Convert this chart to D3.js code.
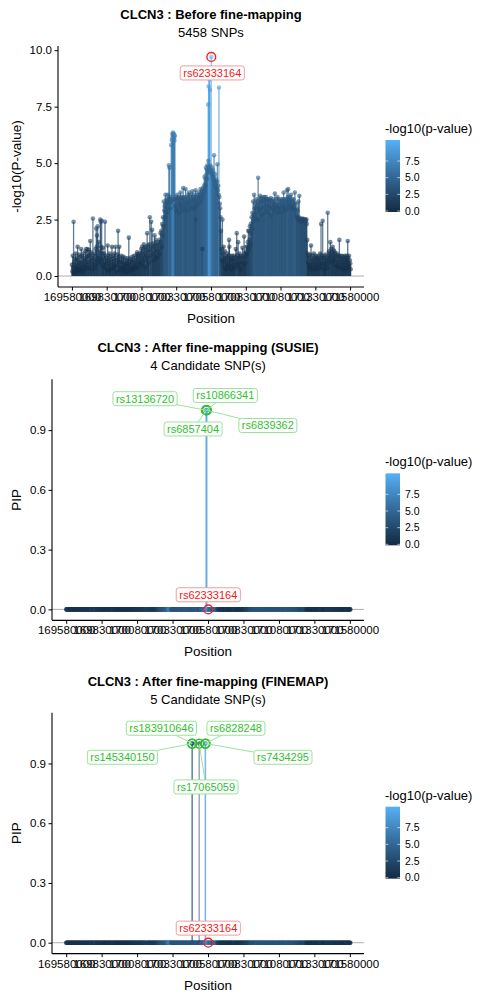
<!DOCTYPE html>
<html>
<head>
<meta charset="utf-8">
<script src="https://cdn.jsdelivr.net/npm/d3@7"></script>
<style>
  body { margin: 0; background: #fff; }
  svg { display: block; font-family: "Liberation Sans", Arial, sans-serif; }
</style>
</head>
<body>
<div id="chart"></div>
<script>
// Region shown on the x axis
var regionStart = 169580000;
var regionEnd = 171580000;
var xTicks = [169580000, 169830000, 170080000, 170330000, 170580000, 170830000, 171080000, 171330000, 171580000];

// SNPs: [kb from regionStart, -log10(p)]
var snps = [
  [0,0.5],[3,0.2],[6,0.9],[9,0.35],[12,2.4],[15,0.6],[18,0.15],[21,0.75],[24,0.4],[27,1.0],[30,0.3],[33,0.8],[36,0.5],[39,0.2],[41,1.3],[44,0.7],[47,0.4],[50,0.95],[53,0.25],[56,0.6],
  [59,0.85],[62,0.3],[65,0.55],[67,1.2],[70,0.4],[73,0.9],[76,0.2],[79,0.65],[82,1.0],[85,0.45],[88,0.8],[91,0.3],[94,0.7],[97,1.1],[100,0.5],[103,1.2],[106,0.85],[109,0.35],[113,1.2],[116,0.9],
  [119,0.6],[122,1.15],[125,0.4],[128,0.95],[132,1.55],[135,0.7],[138,1.05],[141,0.3],[144,0.8],[147,0.5],[151,2.55],[154,0.9],[157,0.6],[160,1.0],[163,0.35],[166,0.75],[170,1.2],[173,0.5],[175,2.1],[178,1.3],
  [180,1.8],[183,0.7],[185,2.2],[188,0.9],[192,1.5],[195,0.6],[198,1.1],[201,0.8],[204,2.5],[207,2.4],[210,1.3],[212,0.7],[214,2.45],[217,1.0],[220,0.5],[223,1.25],[226,0.8],[229,0.4],[232,1.0],[235,0.6],
  [238,2.4],[241,0.9],[244,0.5],[247,0.8],[250,0.3],[253,0.7],[257,1.35],[260,0.55],[263,0.9],[266,0.25],[269,0.7],[272,1.0],[275,0.4],[278,0.85],[281,0.6],[284,0.3],[288,1.3],[291,0.75],[294,0.5],[297,0.9],
  [300,0.35],[303,0.65],[306,1.0],[309,0.45],[313,1.3],[316,0.8],[319,0.5],[322,0.2],[325,0.7],[328,0.95],[332,2.0],[335,0.6],[338,0.85],[341,1.3],[344,0.4],[347,0.7],[350,0.25],[353,0.6],[356,0.9],[359,0.4],
  [362,0.75],[365,0.3],[368,0.55],[371,0.85],[374,0.2],[377,0.6],[380,0.4],[383,0.8],[386,0.5],[389,0.3],[392,0.65],[395,0.45],[398,0.7],[401,0.2],[404,0.55],[406,0.8],[409,1.7],[412,0.5],[415,0.3],[418,0.65],
  [421,0.4],[424,0.75],[427,0.25],[430,0.6],[433,0.85],[436,0.4],[439,0.7],[442,0.3],[445,0.55],[448,0.9],[451,0.45],[454,0.7],[457,0.35],[460,0.8],[463,0.5],[466,0.95],[469,1.05],[472,0.6],[475,0.85],[478,0.4],
  [481,0.9],[484,0.7],[487,1.0],[490,0.55],
  [493,1.0],[496,0.6],[499,1.2],[502,0.8],[505,1.3],[508,0.5],[511,1.1],[514,0.9],[517,1.4],[520,0.7],[523,1.25],[526,1.0],[529,0.4],[532,1.3],[535,0.9],[538,1.15],[541,1.9],[544,0.8],[547,1.35],[550,1.1],
  [553,0.6],[556,1.4],[560,2.6],[563,1.2],[566,0.9],[570,2.4],[573,1.3],[577,2.05],[580,1.0],[583,1.45],[586,0.7],[589,1.3],[591,1.1],[594,1.8],[597,0.9],[600,1.4],[603,1.6],[606,1.2],[609,0.8],[612,1.35],
  [615,1.1],[618,1.5],[621,0.9],[624,1.4],[627,1.2],[630,1.6],[633,1.0],[637,1.9],[640,1.5],[643,2.0],[646,1.3],[649,2.3],[652,1.8],[655,2.6],[658,2.2],[661,3.3],
  [664,2.9],[667,3.1],[670,2.6],[673,3.6],[676,3.2],[679,3.4],[682,2.8],[685,3.3],[688,3.0],[690,3.6],[693,3.4],[697,4.9],[700,3.2],[702,4.8],[705,3.5],[708,3.0],[711,3.4],[714,5.8],[717,3.3],[719,6.0],
  [721,6.1],[723,6.3],[725,6.25],[727,6.35],[729,6.2],[731,6.3],[733,6.1],[735,6.25],[737,6.0],[739,3.4],[741,6.2],[743,3.1],[746,3.5],[749,2.9],[752,3.4],[755,3.2],[758,3.6],[761,3.0],[764,3.45],[767,3.3],
  [770,2.8],[773,3.5],[776,3.2],[779,3.4],[781,3.7],[784,3.1],[787,3.5],[790,3.3],[793,2.9],[796,3.45],[800,3.9],[803,3.2],[806,3.5],[809,3.0],[812,3.4],[815,3.3],[817,3.85],[820,3.1],[823,3.5],[826,3.25],
  [829,2.9],[832,3.45],[835,3.3],[838,3.6],[841,3.7],[844,3.2],[847,3.5],[850,3.0],[853,3.4],[856,3.3],[859,3.6],[862,3.1],[865,3.75],[868,3.35],[871,3.5],[874,3.0],[877,3.45],[880,3.3],[883,3.6],[886,3.2],
  [887,3.0],[889,3.8],[890,2.5],[892,3.4],[895,3.1],[898,3.5],[901,3.3],[904,3.6],[907,3.2],[910,3.45],[913,3.7],[916,3.5],[919,3.3],[922,3.6],[925,3.85],[928,3.5],[931,3.7],[934,3.4],[937,3.8],[938,1.2],
  [940,3.6],[943,3.9],[946,3.7],[950,4.0],[952,3.8],[954,4.4],[957,4.1],[960,4.3],[962,4.0],[964,4.8],[967,4.5],[970,4.7],[972,4.3],[974,4.9],[977,4.6],[979,4.8],[980,7.6],[981,5.1],[983,8.4],[985,4.7],
  [986,8.8],[988,9.1],[990,8.7],[992,8.25],[995,4.9],[998,4.6],[1002,9.7],[1005,4.8],[1008,4.5],[1011,4.7],[1014,4.4],[1017,4.6],[1020,4.3],[1022,5.35],[1025,4.2],[1028,4.5],[1031,4.0],[1034,4.3],[1037,4.1],[1040,3.9],
  [1043,4.2],[1046,4.95],[1049,3.8],[1052,4.0],[1055,3.6],[1057,8.35],[1060,3.5],[1063,3.2],[1066,3.0],[1069,2.6],
  [1072,2.0],[1075,1.2],[1078,0.7],[1082,2.5],[1085,1.0],[1088,0.6],[1091,1.3],[1094,0.8],[1097,0.4],[1100,1.1],[1103,0.7],[1106,0.9],[1109,0.3],[1112,0.8],[1115,0.5],[1118,1.0],[1121,0.6],[1124,0.85],[1127,0.4],[1130,1.6],
  [1132,1.3],[1135,0.7],[1138,0.9],[1141,0.5],[1144,0.8],[1147,0.3],[1150,0.7],[1153,0.9],[1156,0.45],[1159,0.75],[1162,0.6],[1165,0.9],[1168,0.35],[1171,0.8],[1174,0.5],[1178,1.2],[1181,0.7],[1185,1.9],[1188,0.9],[1191,0.5],
  [1195,1.5],[1198,0.8],[1201,0.6],[1204,1.0],[1207,0.4],[1210,0.85],[1213,0.6],[1216,0.9],[1219,0.3],[1222,0.75],[1226,1.25],[1229,0.6],[1232,0.9],[1235,0.5],[1238,1.75],[1241,0.8],[1244,1.0],[1247,0.6],[1250,1.1],[1253,0.9],
  [1256,1.3],[1259,1.0],[1262,1.3],
  [1265,1.5],[1268,2.0],[1271,1.2],[1274,2.0],[1277,1.6],[1280,2.2],[1283,1.4],[1286,2.3],[1289,1.9],[1292,2.6],[1295,2.1],[1298,2.8],[1300,2.4],[1303,3.3],[1306,2.7],[1310,3.6],[1313,3.0],[1316,2.6],[1319,3.2],[1322,3.0],
  [1325,3.4],[1328,2.8],[1331,3.3],[1334,3.1],[1336,2.5],[1339,4.35],[1342,3.2],[1345,3.0],[1348,3.4],[1351,2.9],[1353,3.55],[1356,3.3],[1359,3.0],[1362,3.45],[1365,2.7],[1368,3.3],[1370,3.5],[1373,3.1],[1376,3.4],[1379,2.8],
  [1382,3.3],[1385,3.5],[1388,3.0],[1391,3.4],[1394,3.5],[1397,3.2],[1400,2.9],[1403,3.4],[1406,3.4],[1409,3.1],[1412,3.3],[1415,2.8],[1418,3.4],[1421,3.2],[1424,3.0],[1427,3.35],[1430,3.45],[1433,3.1],[1436,2.7],[1439,3.3],
  [1442,3.0],[1445,3.4],[1448,3.2],[1451,2.9],[1454,3.3],[1457,3.1],[1459,3.65],[1462,3.2],[1465,3.0],[1468,3.4],[1471,3.1],[1474,2.8],[1478,3.5],[1481,3.2],[1484,3.0],[1487,3.4],[1490,3.1],[1493,2.9],[1496,3.3],[1499,3.0],
  [1502,3.4],[1505,3.2],[1508,2.8],[1511,3.3],[1514,3.1],[1517,3.4],[1520,3.0],[1522,3.7],[1525,3.2],[1528,3.4],[1531,3.0],[1534,3.3],[1537,2.9],[1539,3.1],[1542,3.4],[1546,3.8],[1549,3.3],[1552,3.5],[1555,3.85],[1558,3.2],
  [1561,3.4],[1564,3.0],[1567,3.5],[1570,3.3],[1573,3.1],[1575,3.6],[1578,3.2],[1581,3.4],[1584,3.0],[1587,3.1],[1590,3.3],[1594,3.4],[1597,3.0],[1600,3.2],[1603,3.7],[1606,2.9],[1610,3.2],[1613,2.7],[1616,3.0],[1619,2.6],
  [1622,2.9],[1625,2.5],[1628,3.3],[1631,2.6],[1635,3.55],[1638,2.5],[1641,2.4],[1644,2.55],[1647,2.5],[1650,2.45],[1653,2.5],[1656,2.4],[1659,2.55],[1662,2.5],[1665,2.45],[1668,2.5],[1671,2.4],[1674,2.5],[1677,2.45],[1680,2.5],
  [1683,2.4],[1686,2.5],[1689,2.3],[1692,1.6],
  [1695,1.0],[1698,0.6],[1701,0.9],[1704,0.4],[1707,0.8],[1710,0.5],[1713,0.95],[1716,0.3],[1719,1.35],[1722,0.7],[1725,0.5],[1728,0.9],[1731,0.35],[1734,0.75],[1737,0.6],[1740,1.0],[1743,0.4],[1746,0.8],[1749,0.55],[1752,0.9],
  [1755,0.3],[1758,0.7],[1761,0.85],[1764,0.45],[1767,0.75],[1770,0.6],[1773,0.9],[1776,0.35],[1779,0.8],[1782,0.5],[1785,1.0],[1788,0.7],[1791,2.3],[1794,0.6],[1797,0.9],[1800,0.4],[1803,2.45],[1806,0.8],[1809,0.55],[1812,0.9],
  [1815,0.3],[1818,0.75],[1821,0.6],[1824,0.95],[1827,0.5],[1830,0.8],[1833,0.35],[1836,0.7],[1839,2.8],[1842,0.9],[1845,0.6],[1848,1.1],[1851,0.8],[1854,1.0],[1858,1.5],[1861,0.9],[1864,1.2],[1867,0.7],[1870,1.05],[1873,0.6],
  [1875,1.3],[1878,0.9],[1881,1.15],[1884,0.7],[1887,1.1],[1890,0.8],[1893,1.0],[1896,0.5],[1899,0.9],[1902,0.7],[1905,1.0],[1908,0.4],[1911,0.85],[1914,0.6],[1917,0.9],[1920,0.45],[1923,1.6],[1926,0.7],[1929,0.9],[1932,0.35],
  [1935,0.8],[1938,0.6],[1941,0.9],[1944,0.4],[1947,0.75],[1950,0.55],[1953,0.85],[1956,0.3],[1959,0.7],[1962,0.9],[1965,0.5],[1968,0.8],[1971,0.35],[1974,0.7],[1977,0.9],[1980,0.6],[1983,1.55],[1986,0.8],[1989,0.5],[1992,0.9],
  [1995,0.4],[1998,0.7],[2001,0.55],[2004,0.3]
];

// lead SNP (most significant)
var leadName = "rs62333164";
var leadKb = 1002;
var leadLogP = 9.7;
var leadPip = 0;

// SUSIE credible set
var susieNames = ["rs13136720", "rs10866341", "rs6857404", "rs6839362"];
var susieKb = [986, 988, 990, 992];
var susieLogP = [8.8, 9.1, 8.7, 8.25];
var susiePip = [1.0, 1.0, 1.0, 1.0];

// FINEMAP credible set
var finemapNames = ["rs145340150", "rs183910646", "rs17065059", "rs6828248", "rs7434295"];
var finemapKb = [887, 890, 938, 980, 983];
var finemapLogP = [3.0, 2.5, 1.2, 7.6, 8.4];
var finemapPip = [1.0, 1.0, 1.0, 1.0, 1.0];

var logpTicks = [0, 2.5, 5, 7.5, 10];
var pipTicks = [0, 0.3, 0.6, 0.9];
var legendTicks = [0, 2.5, 5, 7.5];

// ---------------- layout ----------------
var svgWidth = 500, svgHeight = 1000;
var panelHeight = 1000 / 3;
var plotTop = 46, plotBottom = 287, plotRight = 364;
var lowColor = "#132B43", highColor = "#56B1F7";
var green = "#2fbf2f", greenLight = "#9be39b", red = "#f02020", redLight = "#f79a9a";

var svg = d3.select("#chart").append("svg")
  .attr("width", svgWidth)
  .attr("height", svgHeight);

var maxLogP = d3.max(snps, d => d[1]);
var color = d3.scaleLinear()
  .domain([0, maxLogP])
  .range([lowColor, highColor])
  .interpolate(d3.interpolateLab);

function posOf(kb) { return regionStart + kb * 1000; }

function addLabel(g, px, py, dx, dy, text, txtColor, boxColor, segColor) {
  var cx = px + dx, cy = py + dy;
  if (segColor) {
    g.append("line")
      .attr("x1", px).attr("y1", py)
      .attr("x2", cx).attr("y2", cy)
      .attr("stroke", segColor)
      .attr("stroke-width", 1);
  }
  var lab = g.append("g");
  var rect = lab.append("rect");
  var t = lab.append("text")
    .attr("x", cx).attr("y", cy + 3.9)
    .attr("text-anchor", "middle")
    .attr("font-size", 11)
    .attr("fill", txtColor)
    .text(text);
  var w = t.node().getComputedTextLength() + 6;
  rect.attr("x", cx - w / 2).attr("y", cy - 7)
    .attr("width", w).attr("height", 14)
    .attr("rx", 2.5)
    .attr("fill", "white")
    .attr("stroke", boxColor)
    .attr("stroke-width", 1);
}

function drawPanel(idx, opts) {
  var top = idx * panelHeight;
  var g = svg.append("g").attr("transform", "translate(0," + top + ")");
  var left = opts.left;

  var span = regionEnd - regionStart;
  var xScale = d3.scaleLinear()
    .domain([regionStart - 0.05 * span, regionEnd + 0.05 * span])
    .range([left, plotRight]);
  var yMax = opts.yMax;
  var yScale = d3.scaleLinear()
    .domain([-0.05 * yMax, yMax * 1.05])
    .range([plotBottom, plotTop]);

  // titles
  var cx = (left + plotRight) / 2;
  g.append("text").attr("x", cx).attr("y", 19)
    .attr("text-anchor", "middle").attr("font-size", 13).attr("font-weight", "bold")
    .text(opts.title);
  g.append("text").attr("x", cx).attr("y", 37)
    .attr("text-anchor", "middle").attr("font-size", 13)
    .text(opts.subtitle);

  // reference line at zero
  g.append("line")
    .attr("x1", left).attr("x2", plotRight)
    .attr("y1", yScale(0)).attr("y2", yScale(0))
    .attr("stroke", "#a6a6a6").attr("stroke-width", 0.9);

  // axes
  var xAxis = g.append("g")
    .attr("transform", "translate(0," + plotBottom + ")")
    .call(d3.axisBottom(xScale).tickValues(xTicks).tickFormat(d3.format("d"))
      .tickSize(3.5).tickPadding(2.5).tickSizeOuter(0));
  var yAxis = g.append("g")
    .attr("transform", "translate(" + left + ",0)")
    .call(d3.axisLeft(yScale).tickValues(opts.yTicks).tickFormat(d3.format(".1f"))
      .tickSize(3.5).tickPadding(2.5).tickSizeOuter(0));
  [xAxis, yAxis].forEach(function(a) {
    a.attr("font-family", null).attr("font-size", null);
    a.selectAll("text").attr("font-size", 11.5).attr("fill", "#000");
    a.selectAll("line").attr("stroke", "#000");
    a.select(".domain").attr("stroke", "#000").attr("stroke-width", 1.1);
  });
  xAxis.select(".domain").attr("d", "M" + left + ",0H" + plotRight);
  yAxis.select(".domain").attr("d", "M0," + plotTop + "V" + plotBottom);

  g.append("text").attr("x", cx).attr("y", 323)
    .attr("text-anchor", "middle").attr("font-size", 13.5)
    .text("Position");
  g.append("text")
    .attr("transform", "translate(21," + (plotTop + plotBottom) / 2 + ") rotate(-90)")
    .attr("text-anchor", "middle").attr("font-size", 13.5)
    .text(opts.ylab);

  var marks = g.append("g");
  if (idx === 0) {
    marks.append("g").selectAll("line")
      .data(snps).enter().append("line")
      .attr("x1", d => xScale(posOf(d[0]))).attr("x2", d => xScale(posOf(d[0])))
      .attr("y1", yScale(0)).attr("y2", d => yScale(d[1]))
      .attr("stroke", d => color(d[1]))
      .attr("stroke-width", 1.3)
      .attr("stroke-opacity", 0.72);
    marks.append("g").selectAll("circle")
      .data(snps).enter().append("circle")
      .attr("cx", d => xScale(posOf(d[0])))
      .attr("cy", d => yScale(d[1]))
      .attr("r", 2.3)
      .attr("fill", d => color(d[1]))
      .attr("fill-opacity", 0.6);
    var lx = xScale(posOf(leadKb)), ly = yScale(leadLogP);
    marks.append("circle").attr("cx", lx).attr("cy", ly).attr("r", 4.4)
      .attr("fill", "none").attr("stroke", red).attr("stroke-width", 1.4);
    addLabel(g, lx, ly, 1, 16, leadName, red, redLight, null);
  } else {
    var names = opts.names, kbs = opts.kb, lps = opts.logp, pips = opts.pip;
    marks.append("g").selectAll("circle")
      .data(snps).enter().append("circle")
      .attr("cx", d => xScale(posOf(d[0])))
      .attr("cy", yScale(0))
      .attr("r", 2.3)
      .attr("fill", d => color(d[1]))
      .attr("fill-opacity", 0.6);
    names.forEach(function(n, i) {
      var x = xScale(posOf(kbs[i]));
      marks.append("line")
        .attr("x1", x).attr("x2", x)
        .attr("y1", yScale(0)).attr("y2", yScale(pips[i]))
        .attr("stroke", color(lps[i]))
        .attr("stroke-width", 1.3)
        .attr("stroke-opacity", 0.5);
    });
    names.forEach(function(n, i) {
      marks.append("circle")
        .attr("cx", xScale(posOf(kbs[i]))).attr("cy", yScale(pips[i]))
        .attr("r", 2.2).attr("fill", color(lps[i])).attr("fill-opacity", 0.7);
    });
    var lx = xScale(posOf(leadKb)), ly = yScale(leadPip);
    marks.append("circle").attr("cx", lx).attr("cy", ly).attr("r", 4.4)
      .attr("fill", "none").attr("stroke", red).attr("stroke-width", 1.4);
    names.forEach(function(n, i) {
      marks.append("circle")
        .attr("cx", xScale(posOf(kbs[i]))).attr("cy", yScale(pips[i])).attr("r", 4.4)
        .attr("fill", "none").attr("stroke", green).attr("stroke-width", 1.5);
    });
    var labs = g.append("g");
    names.forEach(function(n, i) {
      addLabel(labs, xScale(posOf(kbs[i])), yScale(pips[i]), opts.labelDx[i], opts.labelDy[i],
        n, green, greenLight, greenLight);
    });
    addLabel(labs, lx, ly, 0, -14.6, leadName, red, redLight, null);
  }

  // colour bar legend
  var lg = g.append("g");
  var barX = 385.5, barTop = 140, barW = 14.5, barH = 72;
  var gradId = "grad" + idx;
  var grad = svg.append("defs").append("linearGradient")
    .attr("id", gradId).attr("x1", 0).attr("y1", 1).attr("x2", 0).attr("y2", 0);
  d3.range(0, 1.01, 0.1).forEach(function(t) {
    grad.append("stop").attr("offset", t).attr("stop-color", color(t * maxLogP));
  });
  lg.append("text").attr("x", 385).attr("y", 133)
    .attr("font-size", 13).text("-log10(p-value)");
  lg.append("rect").attr("x", barX).attr("y", barTop)
    .attr("width", barW).attr("height", barH)
    .attr("fill", "url(#" + gradId + ")");
  var legScale = d3.scaleLinear().domain([0, 10.65]).range([barTop + barH - 1, barTop]);
  legendTicks.forEach(function(v) {
    var y = legScale(v);
    lg.append("line").attr("x1", barX).attr("x2", barX + 2.8).attr("y1", y).attr("y2", y)
      .attr("stroke", "white").attr("stroke-opacity", 0.6);
    lg.append("line").attr("x1", barX + barW - 2.8).attr("x2", barX + barW).attr("y1", y).attr("y2", y)
      .attr("stroke", "white").attr("stroke-opacity", 0.6);
    lg.append("text").attr("x", 405).attr("y", y + 3.8)
      .attr("font-size", 10.5).text(d3.format(".1f")(v));
  });
}

drawPanel(0, {
  left: 58, yMax: maxLogP, yTicks: logpTicks,
  title: "CLCN3 : Before fine-mapping", subtitle: "5458 SNPs", ylab: "-log10(P-value)"
});
drawPanel(1, {
  left: 52, yMax: 1.1, yTicks: pipTicks,
  title: "CLCN3 : After fine-mapping (SUSIE)", subtitle: susieNames.length + " Candidate SNP(s)", ylab: "PIP",
  names: susieNames, kb: susieKb, logp: susieLogP, pip: susiePip,
  labelDx: [-61, 19, -13.5, 61], labelDy: [-11.5, -14.7, 18.8, 15.3]
});
drawPanel(2, {
  left: 52, yMax: 1.1, yTicks: pipTicks,
  title: "CLCN3 : After fine-mapping (FINEMAP)", subtitle: finemapNames.length + " Candidate SNP(s)", ylab: "PIP",
  names: finemapNames, kb: finemapKb, logp: finemapLogP, pip: finemapPip,
  labelDx: [-69.5, -31, 6.8, 30.8, 77.4], labelDy: [13.7, -15.3, 43.4, -15.3, 13.7]
});
</script>
</body>
</html>
